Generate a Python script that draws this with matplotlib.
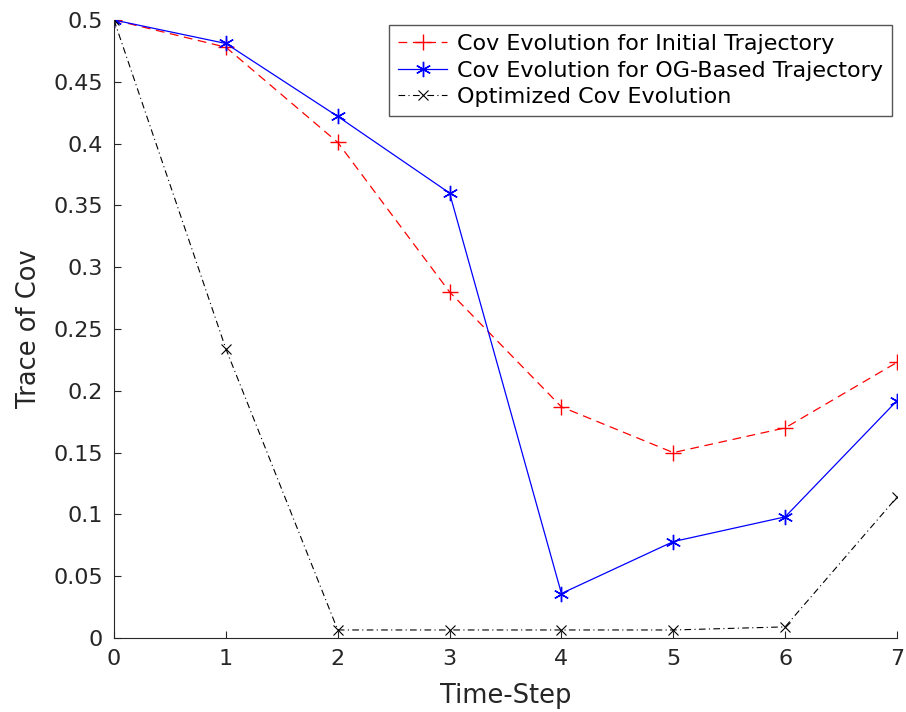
import matplotlib
matplotlib.use("Agg")
import matplotlib.pyplot as plt

plt.rcParams["font.family"] = "DejaVu Sans"

steps = [0, 1, 2, 3, 4, 5, 6, 7]
cov_initial = [0.5, 0.478, 0.401, 0.280, 0.187, 0.150, 0.170, 0.223]
cov_og = [0.5, 0.481, 0.422, 0.360, 0.036, 0.078, 0.098, 0.192]
cov_opt = [0.5, 0.234, 0.0065, 0.0065, 0.0065, 0.0065, 0.009, 0.114]

W, H = 906, 712
fig = plt.figure(figsize=(W / 100, H / 100), dpi=100)
ax = fig.add_axes([114 / W, (H - 638) / H, (897 - 114) / W, (638 - 20) / H])

ax.plot(steps, cov_initial, color="red", linestyle=(0, (7, 4.5)), marker="+",
        markersize=11, markeredgewidth=1.0, linewidth=0.9,
        label="Cov Evolution for Initial Trajectory")
ax.plot(steps, cov_og, "-", color="blue", marker=(6, 2, 0), markersize=11,
        markeredgewidth=1.0, linewidth=0.9,
        label="Cov Evolution for OG-Based Trajectory")
ax.plot(steps, cov_opt, color="black", linestyle=(0, (6, 3, 1, 3)), marker="x",
        markersize=7.5, markeredgewidth=0.8, linewidth=0.8,
        label="Optimized Cov Evolution")

ax.set_xlim(0, 7)
ax.set_ylim(0, 0.5)
ax.set_xticks(steps)
ax.set_yticks([0, 0.05, 0.1, 0.15, 0.2, 0.25, 0.3, 0.35, 0.4, 0.45, 0.5])
ax.set_yticklabels(["0", "0.05", "0.1", "0.15", "0.2", "0.25", "0.3",
                    "0.35", "0.4", "0.45", "0.5"])
ax.tick_params(direction="in", length=5, width=0.8, labelsize=16,
               colors="#262626")
ax.tick_params(axis="x", pad=8)
ax.tick_params(axis="y", pad=8)
for s in ["top", "right"]:
    ax.spines[s].set_visible(False)
for s in ["left", "bottom"]:
    ax.spines[s].set_color("#262626")
ax.set_xlabel("Time-Step", fontsize=18.5, color="#262626", labelpad=10)
ax.set_ylabel("Trace of Cov", fontsize=18.5, color="#262626", labelpad=8)

leg = ax.legend(loc="upper right", bbox_to_anchor=(892 / W, (H - 25) / H),
                bbox_transform=fig.transFigure, borderaxespad=0, fontsize=16,
                fancybox=False, framealpha=1, edgecolor="#555555",
                handlelength=2.2, handletextpad=0.45, borderpad=0.4,
                labelspacing=0.3)
leg.get_frame().set_linewidth(1.0)

fig.savefig("out.png", dpi=100)
